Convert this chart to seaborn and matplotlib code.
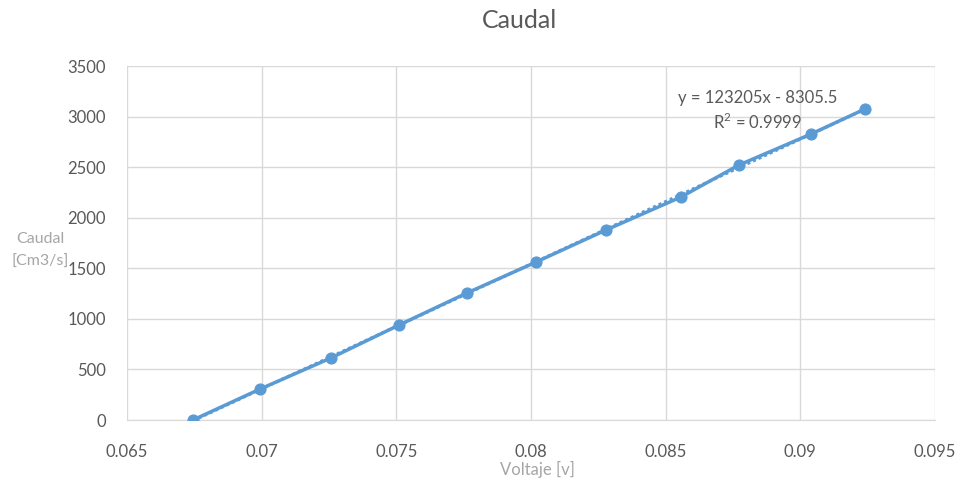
import numpy as np
import pandas as pd
import matplotlib
matplotlib.use("Agg")
import matplotlib.pyplot as plt
import seaborn as sns

voltaje = [0.06745, 0.06994, 0.07257, 0.0751, 0.07762, 0.08019, 0.08278, 0.08557, 0.08772, 0.0904, 0.0924]
caudal = [0, 306, 613, 939, 1256, 1562, 1878, 2205, 2521, 2828, 3075]
x_ticks = [0.065, 0.07, 0.075, 0.08, 0.085, 0.09, 0.095]
x_tick_labels = ["0.065", "0.07", "0.075", "0.08", "0.085", "0.09", "0.095"]
y_ticks = [0, 500, 1000, 1500, 2000, 2500, 3000, 3500]
equation_text = "y = 123205x - 8305.5"
r2_text = "R$^2$ = 0.9999"

sns.set_style("white")
plt.rcParams['font.family'] = ['Lato', 'DejaVu Sans']
plt.rcParams['mathtext.fontset'] = 'custom'
plt.rcParams['mathtext.rm'] = 'Lato'

df = pd.DataFrame({"Voltaje": voltaje, "Caudal": caudal})
blue = "#5B9BD5"

fig = plt.figure(figsize=(9.59, 4.84), dpi=100)
ax = fig.add_axes([0.1324, 0.1322, 0.8426, 0.7314])

# trendline (dotted)
coef = np.polyfit(df["Voltaje"], df["Caudal"], 1)
xs = np.array([df["Voltaje"].min(), df["Voltaje"].max()])
ax.plot(xs, np.polyval(coef, xs), linestyle=(0, (1, 1)), color=blue, lw=2.2, zorder=2)

sns.lineplot(data=df, x="Voltaje", y="Caudal", ax=ax, color=blue, lw=2.5,
             marker="o", markersize=8, markeredgecolor=blue, zorder=3)

ax.set_xlim(0.065, 0.095)
ax.set_ylim(0, 3500)
ax.set_xticks(x_ticks)
ax.set_xticklabels(x_tick_labels)
ax.set_yticks(y_ticks)
ax.grid(True, color="#d9d9d9", lw=1)
for side in ["top", "right", "left"]:
    ax.spines[side].set_visible(False)
ax.spines["bottom"].set_color("#d9d9d9")
ax.tick_params(axis="both", length=0, labelsize=12, labelcolor="#595959")
ax.tick_params(axis="x", pad=17)
ax.tick_params(axis="y", pad=15)
ax.set_xlabel("")
ax.set_ylabel("")

fig.text(0.5422, 0.958, "Caudal", ha="center", va="center", fontsize=18, color="#595959")
fig.text(0.56, 0.03, "Voltaje [v]", ha="center", va="center", fontsize=12, color="#a6a6a6")
fig.text(0.042, 0.483, "Caudal\n[Cm3/s]", ha="center", va="center", fontsize=11.5,
         color="#a6a6a6", linespacing=1.75)

ax.text(0.0884, 3184, equation_text, ha="center", va="center", fontsize=12, color="#595959")
ax.text(0.0884, 2946, r2_text, ha="center", va="center", fontsize=12, color="#595959")

fig.savefig("out.png", dpi=100, facecolor="white")
